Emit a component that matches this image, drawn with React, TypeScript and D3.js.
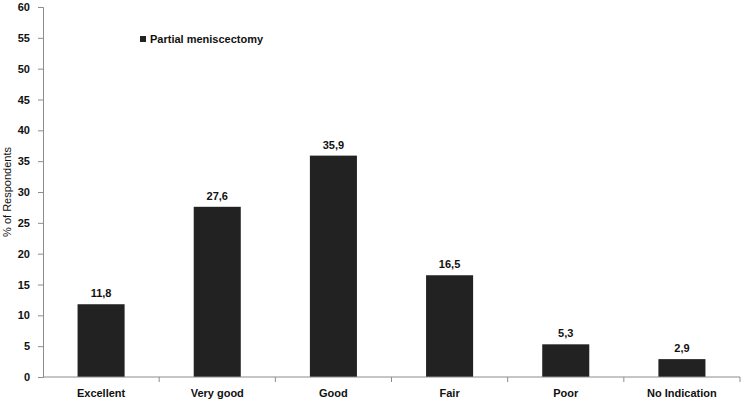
import React, { useEffect, useRef } from "react";
import * as d3 from "d3";

const categories = ["Excellent", "Very good", "Good", "Fair", "Poor", "No Indication"];
const values = [11.8, 27.6, 35.9, 16.5, 5.3, 2.9];
const yTicks = [0, 5, 10, 15, 20, 25, 30, 35, 40, 45, 50, 55, 60];
const seriesName = "Partial meniscectomy";

const W = 742;
const H = 402;

export default function App() {
  const svgRef = useRef<SVGSVGElement>(null);

  useEffect(() => {
    document.body.style.margin = "0";
    if (!svgRef.current) return;
    const svg = d3.select(svgRef.current);
    svg.selectAll("*").remove();

    const margin = { top: 7, right: 2, bottom: 25, left: 43 };
    const innerW = W - margin.left - margin.right;
    const innerH = H - margin.top - margin.bottom;
    const font = "'Liberation Sans', Arial, sans-serif";

    const g = svg.append("g").attr("transform", `translate(${margin.left},${margin.top})`);

    const x = d3.scaleBand().domain(categories).range([0, innerW]).paddingInner(0.595).paddingOuter(0.2975);
    const y = d3.scaleLinear().domain([0, 60]).range([innerH, 0]);

    // bars
    g.selectAll("rect.bar")
      .data(values)
      .join("rect")
      .attr("class", "bar")
      .attr("x", (d, i) => x(categories[i]) || 0)
      .attr("y", d => y(d))
      .attr("width", x.bandwidth())
      .attr("height", d => innerH - y(d))
      .attr("fill", "#222222");

    // value labels
    g.selectAll("text.val")
      .data(values)
      .join("text")
      .attr("class", "val")
      .attr("x", (d, i) => (x(categories[i]) || 0) + x.bandwidth() / 2)
      .attr("y", d => y(d) - 7)
      .attr("text-anchor", "middle")
      .style("font-family", font)
      .style("font-size", "11px")
      .style("font-weight", "bold")
      .attr("fill", "#111")
      .text(d => d.toFixed(1).replace(".", ","));

    // y axis
    const yAxis = g.append("g")
      .call(d3.axisLeft(y).tickValues(yTicks).tickSize(5).tickPadding(8));
    yAxis.select(".domain").attr("stroke", "#8c8c8c");
    yAxis.selectAll(".tick line").attr("stroke", "#8c8c8c");
    yAxis.selectAll(".tick text")
      .style("font-family", font)
      .style("font-size", "11px")
      .style("font-weight", "bold")
      .attr("fill", "#111");

    // x axis with ticks between categories
    const step = x.step();
    const xAxis = g.append("g").attr("transform", `translate(0,${innerH})`);
    xAxis.append("line")
      .attr("x1", 0).attr("x2", innerW)
      .attr("stroke", "#8c8c8c");
    xAxis.selectAll("line.tk")
      .data(d3.range(1, categories.length + 1))
      .join("line")
      .attr("class", "tk")
      .attr("x1", i => i * step).attr("x2", i => i * step)
      .attr("y1", 0).attr("y2", 5)
      .attr("stroke", "#8c8c8c");
    xAxis.selectAll("text")
      .data(categories)
      .join("text")
      .attr("x", d => (x(d) || 0) + x.bandwidth() / 2)
      .attr("y", 20)
      .attr("text-anchor", "middle")
      .style("font-family", font)
      .style("font-size", "11px")
      .style("font-weight", "bold")
      .attr("fill", "#111")
      .text(d => d);

    // y axis label
    svg.append("text")
      .attr("transform", `translate(11,${margin.top + innerH / 2}) rotate(-90)`)
      .attr("text-anchor", "middle")
      .style("font-family", font)
      .style("font-size", "11px")
      .attr("fill", "#111")
      .text("% of Respondents");

    // legend
    const legend = svg.append("g").attr("transform", "translate(140,36)");
    legend.append("rect")
      .attr("width", 6).attr("height", 6)
      .attr("fill", "#222222");
    legend.append("text")
      .attr("x", 10).attr("y", 7)
      .style("font-family", font)
      .style("font-size", "11px")
      .style("font-weight", "bold")
      .attr("fill", "#111")
      .text(seriesName);
  }, []);

  return <svg ref={svgRef} width={W} height={H} style={{ display: "block", background: "#fff" }}></svg>;
}
